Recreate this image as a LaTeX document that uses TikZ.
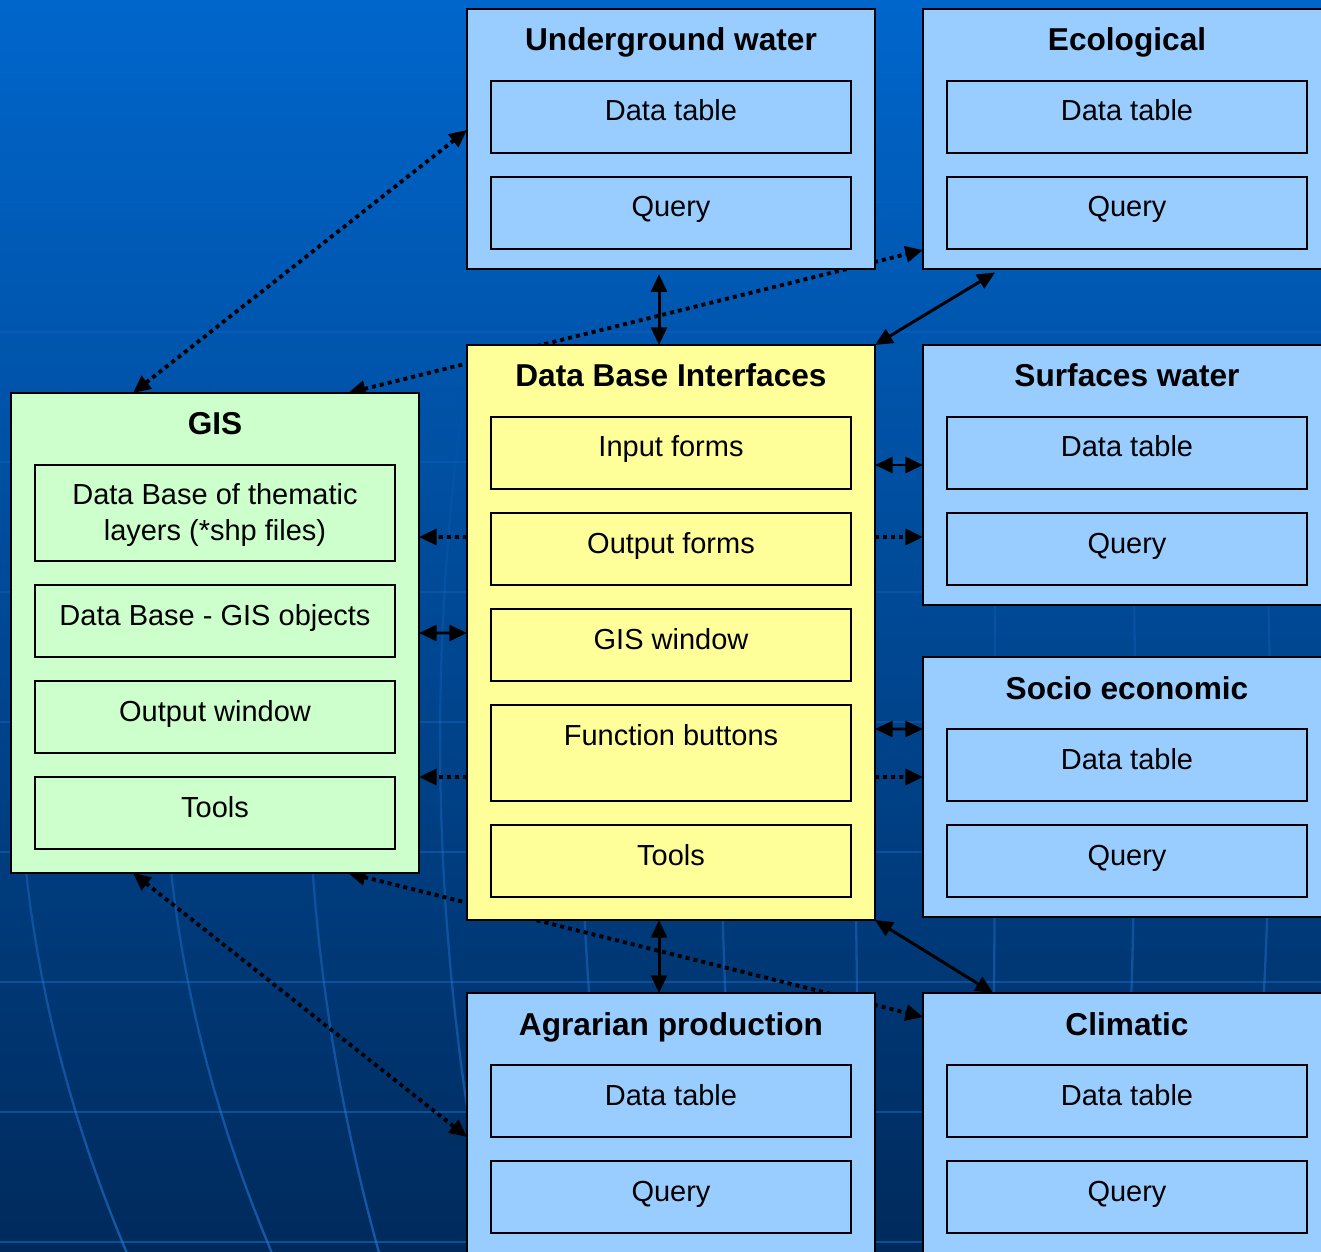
\documentclass[tikz,border=0pt]{standalone}
\usepackage{fontspec}
\setmainfont{Liberation Sans}
\usetikzlibrary{positioning,arrows.meta,fadings}

\pgfdeclarelayer{bg}
\pgfdeclarelayer{behind}
\pgfsetlayers{bg,behind,main}

\definecolor{skytop}{RGB}{0,102,204}
\definecolor{skymid}{RGB}{0,76,156}
\definecolor{skybot}{RGB}{0,42,92}
\definecolor{gridblue}{RGB}{40,130,230}
\definecolor{tblblue}{RGB}{153,204,255}
\definecolor{dbiyellow}{RGB}{255,255,153}
\definecolor{gisgreen}{RGB}{204,255,204}

\tikzset{
  panel/.style={draw=black, line width=1.1pt, anchor=north, outer sep=0pt,
    minimum width=8.16cm, inner ysep=0pt, text height=0.84cm,
    font=\fontsize{18}{21}\selectfont\bfseries},
  cell/.style={draw=black, line width=1.1pt, minimum width=7.2cm, outer sep=0pt,
    inner ysep=0pt, text height=0.8cm, text depth=0.64cm,
    align=center, font=\fontsize{16.5}{20}\selectfont},
  tall/.style={text depth=1.12cm},
  twoline/.style={text height=1.5cm, text depth=0.42cm},
  tip/.tip={Triangle[length=10pt,width=9pt]},
  both/.style={line width=1.7pt, tip-tip},
  dots/.style={line width=2.2pt, dash pattern=on 2.3pt off 2.3pt},
  dotsboth/.style={dots, tip-tip},
  dotsto/.style={dots, -tip},
}

\begin{document}
\begin{tikzpicture}[node distance=0.48cm]
\useasboundingbox (0,0) rectangle (26.42,-25.04);
\clip (0,0) rectangle (26.42,-25.04);

% slide background
\begin{pgfonlayer}{bg}
  \clip (0,0) rectangle (26.42,-25.04);
  \shade[top color=skytop, middle color=skymid, bottom color=skybot]
    (0,0) rectangle (26.42,-25.04);
  \foreach \k in {0,...,9}{
    \pgfmathsetmacro\op{0.05+0.04*\k}
    \draw[gridblue, line width=1.3pt, opacity=\op]
      (0,{-1.44-2.6*\k}) -- (26.42,{-1.44-2.6*\k});
  }
  \foreach \xm/\c in {19/4.1, 164/4.1, 308/2.7, 440/2.0, 580/1.4,
                      720/0.8, 855/0.3, 995/-0.2, 1135/-0.6, 1270/-1.0}{
    \draw[gridblue, line width=1.3pt, opacity=0.55, path fading=north]
      plot[domain=350:1252, samples=40, variable=\y]
        ({(\xm+(\c)*((\y-740)/100)^2)*0.02}, {-\y*0.02});
  }
\end{pgfonlayer}

% data blocks
\node (ug) [panel, fill=tblblue, text depth=4.36cm] at (13.42,-0.18) {Underground water};
\node (ugdt) [cell, fill=tblblue, below=1.44cm of ug.north] {Data table};
\node (ugq) [cell, fill=tblblue, below=of ugdt] {Query};

\node (eco) [panel, fill=tblblue, text depth=4.36cm] at (22.54,-0.18) {Ecological};
\node (ecodt) [cell, fill=tblblue, below=1.44cm of eco.north] {Data table};
\node (ecoq) [cell, fill=tblblue, below=of ecodt] {Query};

\node (sw) [panel, fill=tblblue, text depth=4.36cm] at (22.54,-6.9) {Surfaces water};
\node (swdt) [cell, fill=tblblue, below=1.44cm of sw.north] {Data table};
\node (swq) [cell, fill=tblblue, below=of swdt] {Query};

\node (se) [panel, fill=tblblue, text depth=4.36cm] at (22.54,-13.14) {Socio economic};
\node (sedt) [cell, fill=tblblue, below=1.44cm of se.north] {Data table};
\node (seq) [cell, fill=tblblue, below=of sedt] {Query};

\node (agr) [panel, fill=tblblue, text depth=5.5cm] at (13.42,-19.86) {Agrarian production};
\node (agrdt) [cell, fill=tblblue, below=1.44cm of agr.north] {Data table};
\node (agrq) [cell, fill=tblblue, below=of agrdt] {Query};

\node (clim) [panel, fill=tblblue, text depth=5.5cm] at (22.54,-19.86) {Climatic};
\node (climdt) [cell, fill=tblblue, below=1.44cm of clim.north] {Data table};
\node (climq) [cell, fill=tblblue, below=of climdt] {Query};

% interfaces
\node (dbi) [panel, fill=dbiyellow, text depth=10.66cm] at (13.42,-6.9) {Data Base Interfaces};
\node (dbiin) [cell, fill=dbiyellow, below=1.44cm of dbi.north] {Input forms};
\node (dbiout) [cell, fill=dbiyellow, below=of dbiin] {Output forms};
\node (dbigis) [cell, fill=dbiyellow, below=of dbiout] {GIS window};
\node (dbifn) [cell, tall, fill=dbiyellow, below=of dbigis] {Function buttons};
\node (dbitl) [cell, fill=dbiyellow, below=of dbifn] {Tools};

% GIS
\node (gis) [panel, fill=gisgreen, text depth=8.76cm] at (4.3,-7.86) {GIS};
\node (gisdb) [cell, twoline, fill=gisgreen, below=1.44cm of gis.north] {Data Base of thematic\\layers (*shp files)};
\node (gisobj) [cell, fill=gisgreen, below=of gisdb] {Data Base - GIS objects};
\node (gisout) [cell, fill=gisgreen, below=of gisobj] {Output window};
\node (gistl) [cell, fill=gisgreen, below=of gisout] {Tools};

% long dotted links run behind the blocks
\begin{pgfonlayer}{behind}
  \draw[dotsboth] ([xshift=2.44cm]gis.north west) -- ([yshift=-2.42cm]ug.north west);
  \draw[dotsboth] ([xshift=2.44cm]gis.south west) -- ([yshift=-2.88cm]agr.north west);
  \draw[dotsboth] ([xshift=-1.42cm]gis.north east) -- ([yshift=0.38cm]eco.south west);
  \draw[dotsboth] ([xshift=-1.42cm]gis.south east) -- ([yshift=-0.48cm]clim.north west);
\end{pgfonlayer}

\draw[both] ([xshift=-0.24cm,yshift=-3pt]ug.south) -- ([xshift=-0.24cm]dbi.north);
\draw[both] ([xshift=-0.24cm]dbi.south) -- ([xshift=-0.24cm]agr.north);
\draw[both] (dbi.north east) -- ([xshift=1.44cm,yshift=-2pt]eco.south west);
\draw[both] (dbi.south east) -- ([xshift=1.4cm]clim.north west);
\draw[both] ([yshift=-2.4cm]dbi.north east) -- ([yshift=-2.4cm]sw.north west);
\draw[both] ([yshift=-7.68cm]dbi.north east) -- ([yshift=-1.44cm]se.north west);
\draw[both] ([yshift=-4.8cm]gis.north east) -- ([yshift=-5.76cm]dbi.north west);

\draw[dotsto] ([yshift=-3.84cm]dbi.north west) -- ([yshift=-2.88cm]gis.north east);
\draw[dotsto] ([yshift=-8.64cm]dbi.north west) -- ([yshift=-7.68cm]gis.north east);
\draw[dotsto] ([yshift=-3.84cm]dbi.north east) -- ([yshift=-3.84cm]sw.north west);
\draw[dotsto] ([yshift=-8.64cm]dbi.north east) -- ([yshift=-2.4cm]se.north west);
\end{tikzpicture}
\end{document}
